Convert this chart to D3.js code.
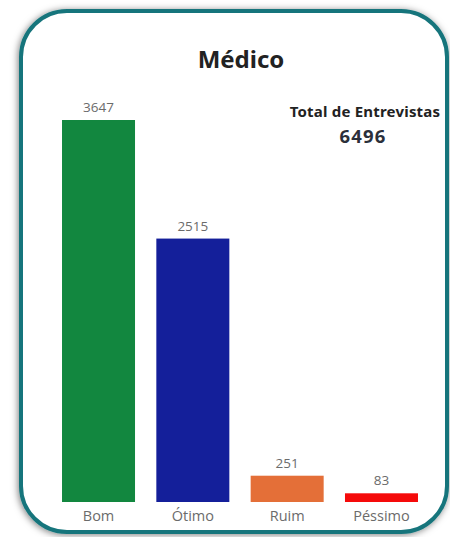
<!DOCTYPE html>
<html>
<head>
<meta charset="utf-8">
<script src="https://cdn.jsdelivr.net/npm/d3@7"></script>
<style>
html,body{margin:0;padding:0;background:#fff;}
svg{display:block;}
</style>
</head>
<body>
<script>
const categories = ["Bom", "Ótimo", "Ruim", "Péssimo"];
const values = [3647, 2515, 251, 83];
const colors = ["#12873f", "#141f9a", "#e46f38", "#f50a0a"];
const title = "Médico";
const totalLabel = "Total de Entrevistas";
const totalValue = 6496;

const W = 450, H = 537;
const svg = d3.select("body").append("svg").attr("width", W).attr("height", H);

const defs = svg.append("defs");
const f = defs.append("filter").attr("id", "sh").attr("x", "-10%").attr("y", "-10%").attr("width", "120%").attr("height", "120%");
f.append("feDropShadow").attr("dx", -1).attr("dy", 1).attr("stdDeviation", 3.5).attr("flood-color", "#000").attr("flood-opacity", 0.5);

svg.append("rect")
  .attr("x", 21).attr("y", 11).attr("width", 426).attr("height", 521)
  .attr("rx", 46).attr("ry", 46)
  .attr("fill", "#fff").attr("stroke", "#17757c").attr("stroke-width", 4)
  .attr("filter", "url(#sh)");

const x = d3.scaleBand().domain(categories).range([40.7, 439.3]).paddingInner(0.226).paddingOuter(0.226);
const y = d3.scaleLinear().domain([0, 3647]).range([502, 120]);

svg.append("g").selectAll("rect").data(values).join("rect")
  .attr("x", (d, i) => x(categories[i]))
  .attr("width", x.bandwidth())
  .attr("y", d => y(d))
  .attr("height", d => y(0) - y(d))
  .attr("fill", (d, i) => colors[i]);

svg.append("g").selectAll("text").data(values).join("text")
  .attr("x", (d, i) => x(categories[i]) + x.bandwidth() / 2)
  .attr("y", d => y(d) - 8)
  .attr("text-anchor", "middle")
  .attr("font-family", "Open Sans, sans-serif")
  .attr("font-size", 13.5)
  .attr("fill", "#6b6b6b")
  .text(d => d);

const xa = svg.append("g").attr("transform", "translate(0,502)")
  .call(d3.axisBottom(x).tickSize(0).tickPadding(9));
xa.select(".domain").remove();
xa.selectAll("text")
  .attr("font-family", "Open Sans, sans-serif")
  .attr("font-size", 14.5)
  .attr("fill", "#6b6b6b");

svg.append("text")
  .attr("x", 241).attr("y", 68)
  .attr("text-anchor", "middle")
  .attr("font-family", "Noto Sans, sans-serif")
  .attr("font-weight", "bold")
  .attr("font-size", 24)
  .attr("fill", "#222")
  .text(title);

svg.append("text")
  .attr("x", 365).attr("y", 117)
  .attr("text-anchor", "middle")
  .attr("font-family", "Noto Sans, sans-serif")
  .attr("font-weight", "bold")
  .attr("font-size", 15)
  .attr("letter-spacing", 0.2)
  .attr("fill", "#222")
  .text(totalLabel);

svg.append("text")
  .attr("x", 363).attr("y", 143)
  .attr("text-anchor", "middle")
  .attr("font-family", "Noto Sans, sans-serif")
  .attr("font-weight", "bold")
  .attr("font-size", 18.5)
  .attr("letter-spacing", 1.2)
  .attr("fill", "#2b2f3a")
  .text(totalValue);
</script>
</body>
</html>
